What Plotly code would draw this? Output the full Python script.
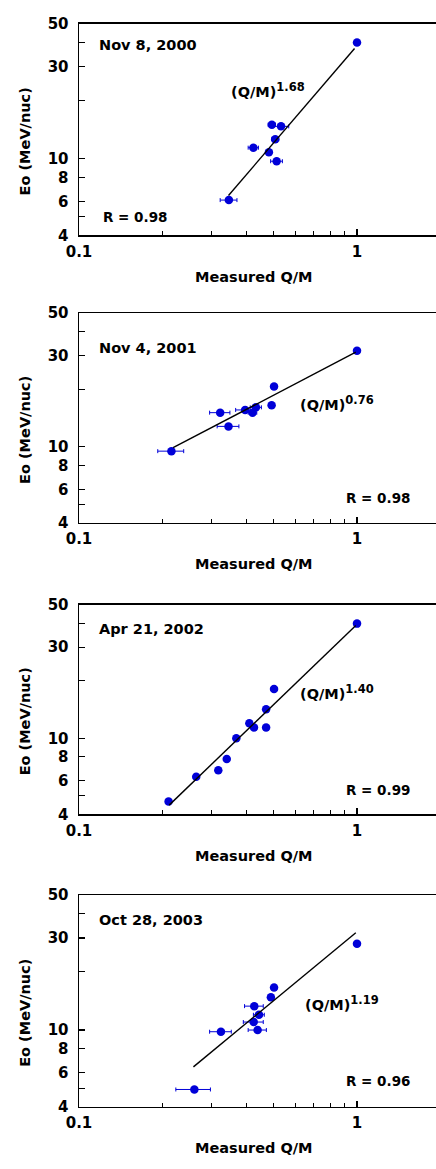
import plotly.graph_objects as go
import numpy as np

# ---------------- data ----------------
titles = ["Nov 8, 2000", "Nov 4, 2001", "Apr 21, 2002", "Oct 28, 2003"]
r_labels = ["R = 0.98", "R = 0.98", "R = 0.99", "R = 0.96"]
exponents = [1.68, 0.76, 1.40, 1.19]
exp_labels = ["1.68", "0.76", "1.40", "1.19"]
fit_amp = [38.5, 31.5, 39.5, 32.3]
fit_x_start = [0.345, 0.218, 0.211, 0.258]
fit_x_end = [0.98, 0.99, 0.99, 0.99]

qm_2000 = [1.0, 0.494, 0.533, 0.508, 0.424, 0.482, 0.514, 0.346]
eo_2000 = [40.0, 15.0, 14.7, 12.6, 11.4, 10.8, 9.7, 6.1]
err_2000 = [0.0, 0.015, 0.035, 0.015, 0.018, 0.010, 0.025, 0.024]

qm_2001 = [1.0, 0.503, 0.493, 0.433, 0.421, 0.396, 0.322, 0.345, 0.215]
eo_2001 = [31.8, 20.7, 16.5, 16.1, 15.1, 15.6, 15.1, 12.8, 9.5]
err_2001 = [0.0, 0.010, 0.0, 0.020, 0.015, 0.030, 0.027, 0.031, 0.023]

qm_2002 = [1.0, 0.503, 0.471, 0.471, 0.410, 0.426, 0.368, 0.340, 0.317, 0.264, 0.210]
eo_2002 = [39.8, 18.1, 14.2, 11.4, 12.0, 11.4, 10.0, 7.8, 6.8, 6.3, 4.67]
err_2002 = [0.0] * 11

qm_2003 = [1.0, 0.503, 0.490, 0.427, 0.444, 0.425, 0.439, 0.324, 0.260]
eo_2003 = [28.0, 16.6, 14.8, 13.3, 12.0, 11.0, 10.0, 9.8, 4.92]
err_2003 = [0.0, 0.010, 0.005, 0.033, 0.020, 0.035, 0.033, 0.029, 0.037]

x_tick_vals = [0.1, 1]
x_tick_text = ["0.1", "1"]
x_minor_vals = [0.2, 0.3, 0.4, 0.5, 0.6, 0.7, 0.8, 0.9]
y_tick_vals = [4, 6, 8, 10, 30, 50]
y_tick_text = ["4", "6", "8", "10", "30", "50"]
y_minor_vals = [5, 20, 40]

panels_x = [qm_2000, qm_2001, qm_2002, qm_2003]
panels_y = [eo_2000, eo_2001, eo_2002, eo_2003]
panels_err = [err_2000, err_2001, err_2002, err_2003]

# ---------------- layout geometry (pixels) ----------------
W, H = 444, 1169          # a few px wider than the window: right border falls outside
L = 79
PW = W - L
DECADE = 278
top_px = [15, 309, 605, 900]
bot_px = [230, 522, 818, 1115]
title_y = [37, 344, 630, 925]
law_pos = [(229, 82), (298, 400), (298, 694), (303, 1010)]
r_pos = [(101, 211), (344, 497), (344, 793), (344, 1089)]


def px(x):
    return (x - L) / PW


def py(y):
    return 1 - y / H


FONT = "DejaVu Sans"
BLUE = "#0000d8"


def bold(s):
    return dict(family=FONT, size=s, color="black", weight="bold")


fig = go.Figure()
annotations = []
layout_axes = {}

for i in range(4):
    xa = "x" if i == 0 else f"x{i+1}"
    ya = "y" if i == 0 else f"y{i+1}"
    xk = "xaxis" if i == 0 else f"xaxis{i+1}"
    yk = "yaxis" if i == 0 else f"yaxis{i+1}"

    fig.add_trace(go.Scatter(
        x=panels_x[i], y=panels_y[i], mode="markers",
        marker=dict(color=BLUE, size=8.5),
        error_x=dict(type="data", array=panels_err[i], color=BLUE,
                     thickness=1, width=2, visible=True),
        xaxis=xa, yaxis=ya, showlegend=False, cliponaxis=False))

    fx = np.array([fit_x_start[i], fit_x_end[i]])
    fy = fit_amp[i] * fx ** exponents[i]
    fig.add_trace(go.Scatter(
        x=fx, y=fy, mode="lines", line=dict(color="black", width=1.4),
        xaxis=xa, yaxis=ya, showlegend=False))

    layout_axes[xk] = dict(
        type="log", range=[-1, -1 + PW / DECADE],
        domain=[0, 1], anchor=ya,
        showline=True, linecolor="black", linewidth=1.5, mirror=True,
        ticks="inside", ticklen=6, tickwidth=1.2, tickcolor="black",
        tickvals=x_tick_vals, ticktext=x_tick_text,
        minor=dict(tickvals=x_minor_vals, ticks="inside", ticklen=4,
                   tickwidth=1, tickcolor="black"),
        showgrid=False, zeroline=False,
        tickfont=bold(15),
        ticklabelstandoff=2)
    layout_axes[yk] = dict(
        type="log", range=[np.log10(4), np.log10(50)],
        domain=[py(bot_px[i]), py(top_px[i])], anchor=xa,
        showline=True, linecolor="black", linewidth=1.5, mirror=False,
        ticks="inside", ticklen=6, tickwidth=1.2, tickcolor="black",
        tickvals=y_tick_vals, ticktext=y_tick_text,
        minor=dict(tickvals=y_minor_vals, ticks="inside", ticklen=6,
                   tickwidth=1, tickcolor="black"),
        showgrid=False, zeroline=False,
        tickfont=bold(15),
        ticklabelstandoff=6)

    annotations.append(dict(text=titles[i], x=px(97), y=py(title_y[i]),
                            xref="paper", yref="paper", xanchor="left", yanchor="middle",
                            showarrow=False, font=bold(14.5)))
    annotations.append(dict(
        text=f"(Q/M)<sup><span style='font-size:11.5px'>{exp_labels[i]}</span></sup>",
        x=px(law_pos[i][0]), y=py(law_pos[i][1]),
        xref="paper", yref="paper", xanchor="left", yanchor="middle",
        showarrow=False, font=bold(14.5)))
    annotations.append(dict(text=r_labels[i], x=px(r_pos[i][0]), y=py(r_pos[i][1]),
                            xref="paper", yref="paper", xanchor="left", yanchor="middle",
                            showarrow=False, font=bold(13.5)))
    annotations.append(dict(text="Measured Q/M", x=px(253), y=py(bot_px[i] + 42),
                            xref="paper", yref="paper", xanchor="center", yanchor="middle",
                            showarrow=False, font=bold(14.5)))
    annotations.append(dict(text="Eo (MeV/nuc)", x=px(25), y=py((top_px[i] + bot_px[i]) / 2 + 12),
                            xref="paper", yref="paper", xanchor="center", yanchor="middle",
                            textangle=-90, showarrow=False, font=bold(14.5)))

fig.update_layout(
    width=W, height=H,
    margin=dict(l=L, r=0, t=0, b=0),
    paper_bgcolor="white", plot_bgcolor="white",
    hovermode=False,
    annotations=annotations,
    **layout_axes)

fig.write_html("out.html",
               config={"staticPlot": True, "displayModeBar": False},
               post_script="document.body.style.margin='0';document.body.style.overflow='hidden';")
